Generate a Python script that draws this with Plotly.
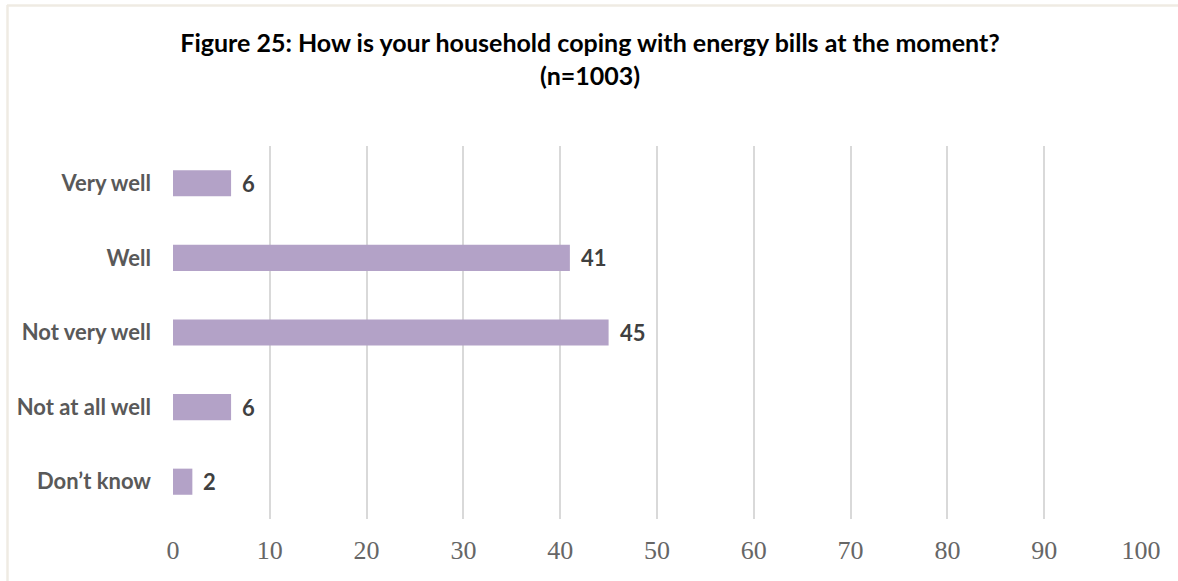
import plotly.graph_objects as go

# Survey responses (percent of respondents)
categories = ["Very well", "Well", "Not very well", "Not at all well", "Don\u2019t know"]
values = [6, 41, 45, 6, 2]
x_ticks = [0, 10, 20, 30, 40, 50, 60, 70, 80, 90, 100]

title_text = ("<b>Figure 25: How is your household coping with energy bills at the moment?</b>"
              "<br><b>(n=1003)</b>")

W, H = 1178, 581
ML, MR, MT, MB = 173, 37, 146, 62
PW, PH = W - ML - MR, H - MT - MB

BAR = "#B3A2C7"
GRID = "#D9D9D9"
BORDER = "#EFEBE3"
SANS = "Lato, 'Open Sans', sans-serif"

fig = go.Figure(
    go.Bar(
        x=values,
        y=categories,
        orientation="h",
        marker=dict(color=BAR, line=dict(width=0)),
        width=0.35,
        hoverinfo="skip",
    )
)

# value labels to the right of each bar
for c, v in zip(categories, values):
    fig.add_annotation(
        x=v, y=c, xref="x", yref="y", text=f"<b>{v}</b>",
        showarrow=False, xanchor="left", xshift=9,
        font=dict(family=SANS, size=22, color="#404040"),
    )


def px_x(p):
    return (p - ML) / PW


def px_y(p):
    return 1 - (p - MT) / PH


# light frame around the chart (top and left edges)
fig.add_shape(type="line", xref="paper", yref="paper",
              x0=px_x(7), x1=px_x(W + 5), y0=px_y(5.5), y1=px_y(5.5),
              line=dict(color=BORDER, width=2.5))
fig.add_shape(type="line", xref="paper", yref="paper",
              x0=px_x(7.5), x1=px_x(7.5), y0=px_y(5), y1=px_y(H + 5),
              line=dict(color=BORDER, width=2.5))

fig.update_layout(
    width=W, height=H,
    margin=dict(l=ML, r=MR, t=MT, b=MB),
    paper_bgcolor="white", plot_bgcolor="white",
    showlegend=False,
    title=dict(
        text=title_text, x=590 / W, xanchor="center",
        y=1 - 52 / H, yanchor="middle", yref="container",
        font=dict(family=SANS, size=25, color="#000000"),
    ),
    xaxis=dict(
        range=[0, 100], tickvals=x_ticks, showgrid=True,
        gridcolor=GRID, gridwidth=1.5, zeroline=False,
        showline=False, ticks="", ticklabelstandoff=13,
        tickfont=dict(family="'Liberation Serif', serif", size=26, color="#666666"),
        fixedrange=True,
    ),
    yaxis=dict(
        categoryorder="array", categoryarray=categories[::-1],
        showgrid=False, zeroline=False, showline=False, ticks="",
        ticklabelstandoff=21,
        tickfont=dict(family=SANS, size=22, color="#595959", weight="bold"),
        fixedrange=True,
    ),
    bargap=0.65,
)

fig.write_html("out.html")
